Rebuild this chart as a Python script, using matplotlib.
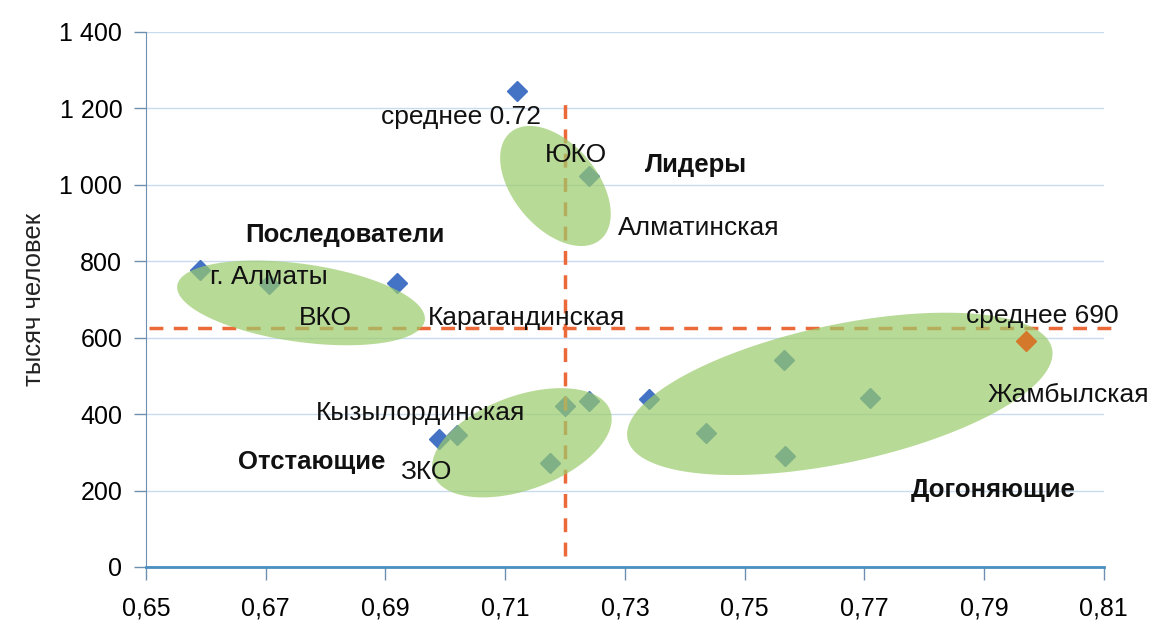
import numpy as np
import matplotlib
matplotlib.use('Agg')
import matplotlib.pyplot as plt

plt.rcParams['font.family'] = ['Liberation Sans', 'DejaVu Sans']

# points (index, thousand people)
xs = [0.712, 0.659, 0.6705, 0.692, 0.699, 0.702, 0.720, 0.724, 0.7175, 0.724, 0.734, 0.7435, 0.7565, 0.7567, 0.771]
ys = [1245, 778, 740, 742, 335, 345, 420, 435, 272, 1023, 440, 351, 542, 290, 442]
zham_x = [0.797]
zham_y = [592]

mean_x = 0.72
mean_y = 625

# clusters: centre x, centre y, semi-axes in px, angle (deg)
ell_cx = [0.7184, 0.6759, 0.7128, 0.7659]
ell_cy = [997, 691, 325, 453]
ell_a = [70, 125, 94, 217]
ell_b = [42, 39, 47, 69]
ell_ang = [-50, -8, 20, 12]

labels = ['среднее 0.72', 'ЮКО', 'Алматинская', 'г. Алматы', 'ВКО', 'Карагандинская',
          'среднее 690', 'Жамбылская', 'Кызылординская', 'ЗКО']
lab_x = [0.7026, 0.7218, 0.7288, 0.6607, 0.6799, 0.6971, 0.7997, 0.8041, 0.7134, 0.6967]
lab_y = [1178, 1078, 887, 759, 652, 652, 657, 450, 403, 249]
lab_ha = ['center', 'center', 'left', 'left', 'center', 'left', 'center', 'center', 'right', 'center']

groups = ['Лидеры', 'Последователи', 'Отстающие', 'Догоняющие']
grp_x = [0.7418, 0.6832, 0.6776, 0.7916]
grp_y = [1052, 869, 275, 202]

fig = plt.figure(figsize=(11.54, 6.21), dpi=100)
ax = fig.add_axes([0.1265, 0.087, 0.83, 0.8615])

ax.set_xlim(0.65, 0.81)
ax.set_ylim(0, 1400)
ax.set_xticks(np.arange(0.65, 0.8101, 0.02))
ax.set_xticklabels([('%.2f' % v).replace('.', ',') for v in np.arange(0.65, 0.8101, 0.02)])
ax.set_yticks(range(0, 1401, 200))
ax.set_yticklabels([('{:,}'.format(v)).replace(',', ' ') for v in range(0, 1401, 200)])
ax.tick_params(axis='both', labelsize=18, length=9, color='#6f8fb0', width=1)
ax.tick_params(axis='x', pad=12)
ax.tick_params(axis='y', pad=8)
ax.grid(axis='y', color='#c9dbee', linewidth=1)
ax.set_axisbelow(True)
for s in ['top', 'right']:
    ax.spines[s].set_visible(False)
ax.spines['left'].set_color('#6f8fb0')
ax.spines['bottom'].set_color('#4a8fc0')
ax.spines['bottom'].set_linewidth(2)
ax.set_ylabel('тысяч человек', fontsize=18.5, color='#222222', labelpad=10)

ax.plot(xs, ys, 'D', color='#4472c4', markersize=10, zorder=3)

# mean lines
ax.plot([mean_x, mean_x], [30, 1235], '--', color='#ec6a3a', linewidth=2.5, dashes=(4, 3), zorder=4)
ax.plot([0.6505, 0.8115], [mean_y, mean_y], '--', color='#ec6a3a', linewidth=2.5, dashes=(4, 3),
        zorder=4, clip_on=False)

# ellipses, drawn in pixel space
fig.canvas.draw()
t = np.linspace(0, 2 * np.pi, 200)
for cx, cy, a, b, ang in zip(ell_cx, ell_cy, ell_a, ell_b, ell_ang):
    c = ax.transData.transform((cx, cy))
    r = np.radians(ang)
    px = c[0] + a * np.cos(t) * np.cos(r) - b * np.sin(t) * np.sin(r)
    py = c[1] + a * np.cos(t) * np.sin(r) + b * np.sin(t) * np.cos(r)
    d = ax.transData.inverted().transform(np.column_stack([px, py]))
    ax.fill(d[:, 0], d[:, 1], color='#9bcb6b', alpha=0.7, linewidth=0, zorder=5)

ax.plot(zham_x, zham_y, 'D', color='#d4782c', markersize=10, zorder=6)

for txt, x, y, ha in zip(labels, lab_x, lab_y, lab_ha):
    ax.text(x, y, txt, fontsize=19, ha=ha, va='center', color='#111111', zorder=7)
for txt, x, y in zip(groups, grp_x, grp_y):
    ax.text(x, y, txt, fontsize=18.5, ha='center', va='center', fontweight='bold', color='#111111', zorder=7)

fig.savefig('out.png', dpi=100)
